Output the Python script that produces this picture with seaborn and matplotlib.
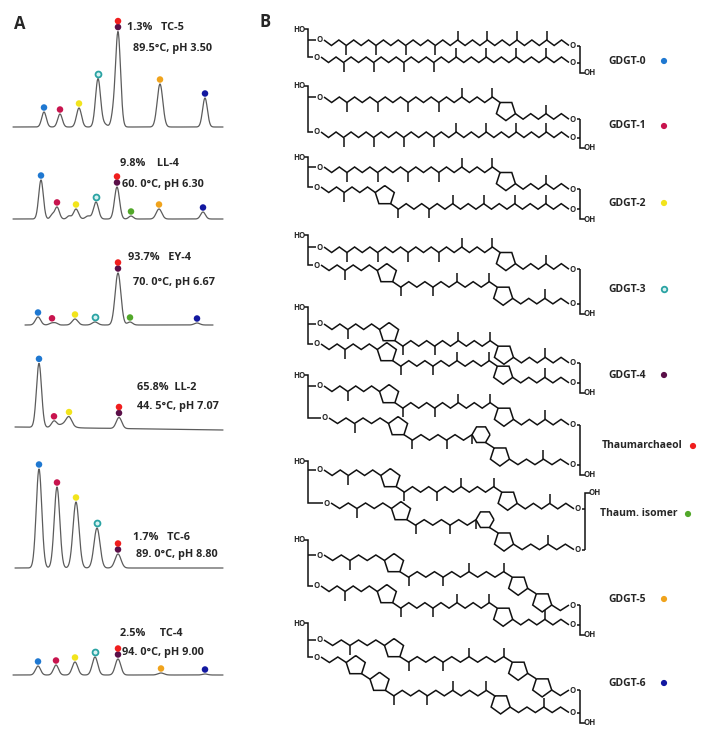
import numpy as np
import pandas as pd
import matplotlib
matplotlib.use("Agg")
import matplotlib.pyplot as plt
from matplotlib.collections import LineCollection
import seaborn as sns

sns.set_theme(style="white")
plt.rcParams['font.family'] = ['Open Sans', 'DejaVu Sans']

# ---------------- DATA ----------------
compounds = ["GDGT-0", "GDGT-1", "GDGT-2", "GDGT-3", "GDGT-4",
             "Thaumarchaeol", "Thaum. isomer", "GDGT-5", "GDGT-6"]
compound_colors = ["#1f78d1", "#c8144e", "#f2e41c", "#2aa3a3", "#5a0f48",
                   "#f01e1e", "#52a82a", "#f0a31c", "#1218a0"]

# peak groups in chromatograms (GDGT-4 and thaumarchaeol co-elute)
peak_groups = ["GDGT-0", "GDGT-1", "GDGT-2", "GDGT-3", "GDGT-4+Thaum",
               "Thaum. isomer", "GDGT-5", "GDGT-6"]

samples = ["TC-5", "LL-4", "EY-4", "LL-2", "TC-6", "TC-4"]
thaum_pct = ["1.3%", "9.8%", "93.7%", "65.8%", "1.7%", "2.5%"]
temperature = ["89.5", "60. 0", "70. 0", "44. 5", "89. 0", "94. 0"]
ph_values = ["3.50", "6.30", "6.67", "7.07", "8.80", "9.00"]

# retention position of each peak group per sample
peak_rt = [
    [44, 60, 79, 98, 118, 131, 160, 205],
    [41, 57, 76, 96, 117, 131, 159, 203],
    [38, 52, 75, 95, 118, 130, 160, 197],
    [39, 54, 69, 96, 119, 131, 160, 203],
    [39, 57, 76, 97, 118, 131, 160, 203],
    [38, 56, 75, 95, 118, 131, 161, 205],
]
# peak heights per sample (relative signal)
peak_height = [
    [15, 13, 19, 48, 95, 0, 43, 29],
    [39, 12, 10, 17, 32, 3, 10, 7],
    [8, 2, 6, 3, 52, 3, 0, 2],
    [64, 6, 8, 0, 11, 0, 0, 0],
    [99, 81, 66, 40, 14, 0, 0, 0],
    [9, 10, 13, 18, 16, 0, 2, 1],
]
peak_width = [2.3, 2.3, 2.5, 2.5, 2.5, 2.2, 2.8, 2.4]
width_scale = [1.0, 1.0, 1.15, 1.1, 1.2, 1.1]
# minor unassigned features (rt, height, width)
minor_peaks = [
    [(113, 10, 2.0), (104, 3, 3.0)],
    [(52, 4, 1.8), (69, 3, 2.0), (88, 3, 2.5)],
    [(56, 1.5, 2.0)],
    [(65, 4, 6.0)],
    [],
    [],
]
trace_start = [13, 13, 25, 15, 15, 13]
trace_end = [223, 223, 213, 223, 223, 223]
baseline_drift = [0, 0, 0, 3, 0, 0]

# structures: tokens for upper and lower chains
C_PLAIN = [3, 'M', 4, 'M', 4, 'M', 4, 'M', 3, 'M', 4, 'M', 4, 'M', 4, 'M', 3]
C_P = [3, 'M', 4, 'M', 4, 'M', 4, 'M', 3, 'M', 4, 'M', 1, 'P', 4, 'M', 3]
C_Q = [3, 'M', 4, 'Q', 1, 'M', 4, 'M', 3, 'M', 4, 'M', 4, 'M', 4, 'M', 3]
C_QP = [3, 'M', 4, 'Q', 1, 'M', 4, 'M', 3, 'M', 4, 'M', 1, 'P', 4, 'M', 3]
C_QHP = [3, 'M', 4, 'Q', 1, 'M', 4, 'M', 3, 'd', 'H', 1, 'P', 4, 'M', 3]
C_QPP = [3, 'M', 4, 'Q', 1, 'M', 4, 'M', 3, 'M', 4, 'M', 1, 'P', 1, 'P', 2]
C_QQP = [3, 'Q', 1, 'Q', 1, 'M', 4, 'M', 3, 'M', 4, 'M', 1, 'P', 4, 'M', 3]
upper_chains = [C_PLAIN, C_P, C_P, C_P, C_QP, C_QP, C_QP, C_QPP, C_QPP]
lower_chains = [C_PLAIN, C_PLAIN, C_Q, C_QP, C_QP, C_QHP, C_QHP, C_QP, C_QQP]

# ---------------- LAYOUT ----------------
W, H = 707, 731
fig = plt.figure(figsize=(W / 100, H / 100), dpi=100)
fig.patch.set_facecolor("white")

ax0 = fig.add_axes([0, 0, 1, 1])
ax0.set_xlim(0, W)
ax0.set_ylim(H, 0)
ax0.axis("off")
ax0.patch.set_alpha(0)

color_of = dict(zip(compounds, compound_colors))
group_color = ["GDGT-0", "GDGT-1", "GDGT-2", "GDGT-3", "GDGT-4",
               "Thaum. isomer", "GDGT-5", "GDGT-6"]

baseline_px = [127, 219, 325, 427, 568, 675]
text1_pos = [(127, 27), (120, 164), (128, 258), (137, 388), (133, 537), (120, 634)]
text2_pos = [(133, 48), (122, 184), (133, 283), (137, 407), (136, 554), (122, 653)]
spacers = ["   ", "    ", "   ", "  ", "   ", "     "]

ax0.text(20, 24, "A", fontsize=12, fontweight="bold", ha="center", va="center")
ax0.text(265, 22, "B", fontsize=12, fontweight="bold", ha="center", va="center")

grid = np.arange(0, 240.01, 0.25)
for i, s in enumerate(samples):
    base = baseline_px[i]
    ax = fig.add_axes([0, 1 - (base + 10) / H, 240 / W, 125 / H])
    ax.set_xlim(0, 240)
    ax.set_ylim(-10, 115)
    ax.axis("off")
    ax.patch.set_alpha(0)
    x = grid[(grid >= trace_start[i]) & (grid <= trace_end[i])]
    sig = np.zeros_like(x)
    for rt, h, w in zip(peak_rt[i], peak_height[i], peak_width):
        sig += h * np.exp(-0.5 * ((x - rt) / (w * width_scale[i])) ** 2)
    for rt, h, w in minor_peaks[i]:
        sig += h * np.exp(-0.5 * ((x - rt) / w) ** 2)
    sig -= baseline_drift[i] * (x - x.min()) / (x.max() - x.min())
    sns.lineplot(x=x, y=sig, ax=ax, color="#5c5c5c", linewidth=0.9)

    rows = []
    for g, (rt, h) in enumerate(zip(peak_rt[i], peak_height[i])):
        if h <= 0:
            continue
        top = np.interp(rt, x, sig)
        if g == 4:
            rows.append((rt, top + 4.5, "GDGT-4"))
            rows.append((rt, top + 10.5, "Thaumarchaeol"))
        else:
            rows.append((rt, top + 4.5, group_color[g]))
    df = pd.DataFrame(rows, columns=["rt", "y", "compound"])
    solid = df[df.compound != "GDGT-3"]
    sns.scatterplot(data=solid, x="rt", y="y", hue="compound", palette=color_of,
                    s=22, edgecolor="none", legend=False, ax=ax, clip_on=False, zorder=5)
    hollow = df[df.compound == "GDGT-3"]
    if len(hollow):
        sns.scatterplot(data=hollow, x="rt", y="y", color="#d8f2f2", s=18,
                        edgecolor=color_of["GDGT-3"], linewidth=1.3, legend=False,
                        ax=ax, clip_on=False, zorder=5)

    ax0.text(*text1_pos[i], f"{thaum_pct[i]}{spacers[i]}{s}", fontsize=7.8,
             fontweight="bold", ha="left", va="center")
    ax0.text(*text2_pos[i], f"{temperature[i]}°C, pH {ph_values[i]}", fontsize=7.8,
             fontweight="bold", ha="left", va="center")

# ---------------- PANEL B: structures ----------------
BOND_DY = 5.5
R5 = 10.0
R6 = 9.0
METHYL = 9.0


def chain_geometry(tokens, x0, y0, x1):
    n_b = sum(t for t in tokens if isinstance(t, int))
    ring_w = sum({'P': 1.539 * R5, 'Q': 1.539 * R5, 'H': 1.5 * R6}.get(t, 0)
                 for t in tokens if isinstance(t, str))
    dx = (x1 - x0 - ring_w) / n_b
    segs = []
    cur = [(x0, y0)]
    x, y = x0, y0
    high = y0
    low = False
    for t in tokens:
        if isinstance(t, int):
            for _ in range(t):
                low = not low
                x += dx
                y = high + (BOND_DY if low else 0)
                cur.append((x, y))
        elif t in ('M', 'd'):
            down = low if t == 'M' else True
            segs.append([(x, y), (x, y + (METHYL if down else -METHYL))])
        else:
            if t == 'P':
                cx, cy = x + 0.588 * R5, y + 0.809 * R5
                unit = [(-0.588, -0.809), (0.588, -0.809), (0.951, 0.309), (0, 1), (-0.951, 0.309)]
                ex = (0.951, 0.309)
                r = R5
            elif t == 'Q':
                cx, cy = x + 0.951 * R5, y + 0.309 * R5
                unit = [(0, -1), (0.951, -0.309), (0.588, 0.809), (-0.588, 0.809), (-0.951, -0.309)]
                ex = (0.588, 0.809)
                r = R5
            else:
                cx, cy = x + R6, y
                unit = [(1, 0), (0.5, 0.866), (-0.5, 0.866), (-1, 0), (-0.5, -0.866), (0.5, -0.866)]
                ex = (0.5, 0.866)
                r = R6
            poly = [(cx + u * r, cy + v * r) for u, v in unit]
            poly.append(poly[0])
            segs.append(cur)
            segs.append(poly)
            x, y = cx + ex[0] * r, cy + ex[1] * r
            cur = [(x, y)]
            high = y
            low = False
    segs.append(cur)
    return segs, (x, y)


ho_y = [29, 86, 157, 235, 307, 375, 461, 540, 623]
upper_y = [40, 97, 167, 247, 324, 386, 470, 555, 640]
lower_y = [57, 132, 187, 265, 344, 418, 503, 586, 657]
lower_x = [317, 317, 317, 317, 317, 325, 327, 317, 317]
label_y = [61, 126, 203, 289, 375, 446, 514, 599, 683]
label_x = [608, 608, 608, 608, 608, 602, 600, 608, 608]
dot_x = [664, 664, 664, 664, 664, 693, 688, 664, 664]
right_x = [580, 580, 580, 580, 580, 580, 585, 580, 580]
oh_on_top = [False, False, False, False, False, False, True, False, False]

GLY_X = 308
UPPER_O_X = 320
lines = []
small = dict(fontsize=5.6, fontweight="bold", ha="center", va="center")
for k, name in enumerate(compounds):
    rx = right_x[k]
    o_right = rx - 7
    # left glycerol
    ax0.text(GLY_X - 9, ho_y[k], "HO", **small)
    lines.append([(GLY_X - 4, ho_y[k]), (GLY_X, ho_y[k]), (GLY_X, lower_y[k]),
                  (lower_x[k] - 4, lower_y[k])])
    lines.append([(GLY_X, upper_y[k]), (UPPER_O_X - 4, upper_y[k])])
    ends = []
    for (cx0, cy0, toks) in [(UPPER_O_X, upper_y[k], upper_chains[k]),
                             (lower_x[k], lower_y[k], lower_chains[k])]:
        ax0.text(cx0, cy0, "O", **small)
        segs, end = chain_geometry(toks, cx0 + 4, cy0, o_right - 4)
        lines.extend(segs)
        ax0.text(o_right, end[1], "O", **small)
        lines.append([(o_right + 4, end[1]), (rx, end[1])])
        ends.append(end[1])
    if oh_on_top[k]:
        top = ends[0] - 16
        lines.append([(rx + 5, top), (rx, top), (rx, ends[1])])
        ax0.text(rx + 10, top, "OH", **small)
    else:
        bot = ends[1] + 10
        lines.append([(rx, ends[0]), (rx, bot), (rx + 5, bot)])
        ax0.text(rx + 10, bot, "OH", **small)
    ax0.text(label_x[k], label_y[k], name, fontsize=7.5, fontweight="bold",
             ha="left", va="center")

ax0.add_collection(LineCollection(lines, colors="#111111", linewidths=1.1,
                                  capstyle="butt", joinstyle="miter"))

leg = pd.DataFrame({"x": dot_x, "y": label_y, "compound": compounds})
sns.scatterplot(data=leg[leg.compound != "GDGT-3"], x="x", y="y", hue="compound",
                palette=color_of, s=20, edgecolor="none", legend=False, ax=ax0, zorder=5)
sns.scatterplot(data=leg[leg.compound == "GDGT-3"], x="x", y="y", color="#d8f2f2",
                s=16, edgecolor=color_of["GDGT-3"], linewidth=1.3, legend=False,
                ax=ax0, zorder=5)
ax0.set_xlim(0, W)
ax0.set_ylim(H, 0)
ax0.axis("off")

fig.savefig("out.png", dpi=100, facecolor="white")
